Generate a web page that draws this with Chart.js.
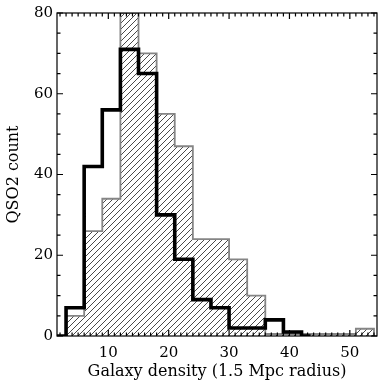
<!DOCTYPE html>
<html>
<head>
<meta charset="utf-8">
<script src="https://cdn.jsdelivr.net/npm/chart.js@4.4.1/dist/chart.umd.min.js"></script>
<style>
  body { margin: 0; background: #fff; }
  canvas { display: block; }
</style>
</head>
<body>
<canvas id="hist" width="380" height="381"></canvas>
<script>
// QSO2 histogram, thick black = psym 10 style steps (bin centres)
const blackCenters = [1.5, 4.5, 7.5, 10.5, 13.5, 16.5, 19.5, 22.5, 25.5, 28.5, 31.5, 34.5, 37.5, 40.5, 43.5];
const blackCounts = [0, 7, 42, 56, 71, 65, 30, 19, 9, 7, 2, 2, 4, 1, 0];

// hatched comparison histogram, bin edges
const grayEdges = [3, 6, 9, 12, 15, 18, 21, 24, 27, 30, 33, 36, 39, 42, 45, 48, 51, 54];
const grayCounts = [5, 26, 34, 80, 70, 55, 47, 24, 24, 19, 10, 0.5, 0.5, 0.5, 0.5, 0.5, 1.8];

const xTickVals = [10, 20, 30, 40, 50];
const yTickVals = [0, 20, 40, 60, 80];

Chart.defaults.font.family = "'DejaVu Serif', serif";
Chart.defaults.color = '#000';

function hatch() {
    var c = document.createElement('canvas');
    c.width = 6;
    c.height = 6;
    var g = c.getContext('2d');
    g.strokeStyle = '#4a4a4a';
    g.lineWidth = 1;
    g.beginPath();
    g.moveTo(-1, 7); g.lineTo(7, -1);
    g.moveTo(-1, 1); g.lineTo(1, -1);
    g.moveTo(5, 7); g.lineTo(7, 5);
    g.stroke();
    return g.createPattern(c, 'repeat');
}

// step outline for the hatched bars
const grayPts = [{ x: grayEdges[0], y: 0 }];
grayCounts.forEach(function (v, i) {
    grayPts.push({ x: grayEdges[i], y: v });
});
grayPts.push({ x: grayEdges[grayEdges.length - 1], y: grayCounts[grayCounts.length - 1] });
grayPts.push({ x: grayEdges[grayEdges.length - 1], y: 0 });

const blackPts = blackCenters.map(function (c, i) {
    return { x: c, y: blackCounts[i] };
});

// box with inward ticks on all four sides
const frameTicks = {
    id: 'frameTicks',
    afterDatasetsDraw(chart) {
        const ctx = chart.ctx;
        const a = chart.chartArea;
        const x = chart.scales.x;
        const y = chart.scales.y;
        ctx.save();
        ctx.strokeStyle = '#000';
        ctx.lineWidth = 1.2;
        ctx.strokeRect(a.left, a.top, a.right - a.left, a.bottom - a.top);
        ctx.beginPath();
        for (let v = Math.ceil(x.min); v <= x.max; v++) {
            const px = x.getPixelForValue(v);
            const len = v % 10 === 0 ? 6 : 3.5;
            ctx.moveTo(px, a.bottom); ctx.lineTo(px, a.bottom - len);
            ctx.moveTo(px, a.top); ctx.lineTo(px, a.top + len);
        }
        for (let v = y.min; v <= y.max; v += 5) {
            const py = y.getPixelForValue(v);
            const len = v % 20 === 0 ? 6 : 3.5;
            ctx.moveTo(a.left, py); ctx.lineTo(a.left + len, py);
            ctx.moveTo(a.right, py); ctx.lineTo(a.right - len, py);
        }
        ctx.stroke();
        ctx.restore();
    }
};

const ctx = document.getElementById('hist');

new Chart(ctx, {
    type: 'line',
    data: {
        datasets: [
            {
                label: 'QSO2',
                data: blackPts,
                stepped: 'middle',
                borderColor: '#000',
                borderWidth: 3.6,
                borderJoinStyle: 'miter',
                pointRadius: 0,
                fill: false,
                order: 0
            },
            {
                label: 'comparison',
                data: grayPts,
                stepped: 'before',
                borderColor: '#858585',
                borderWidth: 1.8,
                borderJoinStyle: 'miter',
                backgroundColor: hatch(),
                pointRadius: 0,
                fill: 'origin',
                order: 1
            }
        ]
    },
    options: {
        responsive: false,
        animation: false,
        layout: {
            padding: { top: 11.5, right: 3, left: 0, bottom: 0 }
        },
        scales: {
            x: {
                type: 'linear',
                min: 1.5,
                max: 54.5,
                grid: { display: false, drawTicks: false },
                border: { display: false },
                afterBuildTicks: function (scale) {
                    scale.ticks = xTickVals.map(v => ({ value: v }));
                },
                afterFit: function (scale) {
                    scale.height = 45;
                },
                ticks: {
                    padding: 8,
                    maxRotation: 0,
                    font: { size: 15 }
                },
                title: {
                    display: true,
                    text: 'Galaxy density (1.5 Mpc radius)',
                    font: { size: 16 },
                    padding: { top: 0, bottom: 0 }
                }
            },
            y: {
                min: 0,
                max: 80,
                grid: { display: false, drawTicks: false },
                border: { display: false },
                afterBuildTicks: function (scale) {
                    scale.ticks = yTickVals.map(v => ({ value: v }));
                },
                afterFit: function (scale) {
                    scale.width = 57;
                },
                ticks: {
                    padding: 4,
                    font: { size: 15 }
                },
                title: {
                    display: true,
                    text: 'QSO2 count',
                    font: { size: 16 },
                    padding: { top: 4, bottom: 0 }
                }
            }
        },
        plugins: {
            legend: { display: false },
            tooltip: { enabled: false }
        }
    },
    plugins: [frameTicks]
});
</script>
</body>
</html>
